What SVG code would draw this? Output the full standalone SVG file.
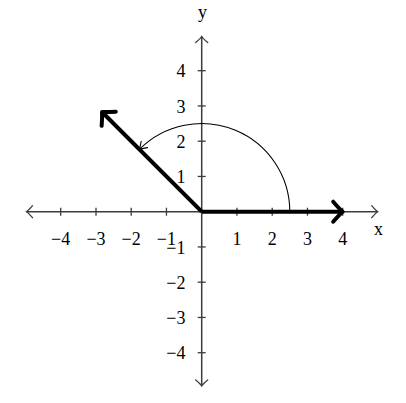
<svg xmlns="http://www.w3.org/2000/svg" width="406" height="403" viewBox="0 0 406 403">
  <style>
    .axis { stroke: #3c3c3c; stroke-width: 1.5; fill: none; }
    .tick { stroke: #3c3c3c; stroke-width: 1.3; }
    .vec { stroke: #000; stroke-width: 4; fill: none; }
    .arc { stroke: #000; stroke-width: 1.1; fill: none; }
    text { font-family: "Liberation Serif", "Times New Roman", serif; font-size: 18px; fill: #000; }
    .xl { text-anchor: middle; }
    .yl { text-anchor: end; }
  </style>
  <defs>
    <marker id="axhead" markerUnits="userSpaceOnUse" markerWidth="20" markerHeight="20" viewBox="-10 -10 20 20" refX="0" refY="0" orient="auto-start-reverse" overflow="visible">
      <path d="M -6 -6 Q -2 -1.2 0 0 Q -2 1.2 -6 6" fill="none" stroke="#3c3c3c" stroke-width="1.3" stroke-linecap="round"/>
    </marker>
    <marker id="thickhead" markerUnits="userSpaceOnUse" markerWidth="30" markerHeight="30" viewBox="-15 -15 30 30" refX="0" refY="0" orient="auto" overflow="visible">
      <path d="M -9.5 -10 Q -3 -2.5 0 0 Q -3 2.5 -9.5 10" fill="none" stroke="#000" stroke-width="4" stroke-linecap="round" stroke-linejoin="round"/>
    </marker>
    <marker id="archead" markerUnits="userSpaceOnUse" markerWidth="20" markerHeight="20" viewBox="-10 -10 20 20" refX="0" refY="0" orient="auto" overflow="visible">
      <path d="M -7 -4.5 Q -2 -1 0 0 Q -2 1 -7 4.5" fill="none" stroke="#000" stroke-width="1.1" stroke-linecap="round"/>
    </marker>
  </defs>

  <g id="axes">
    <line class="axis" x1="26.5" y1="211.7" x2="377.7" y2="211.7" marker-start="url(#axhead)" marker-end="url(#axhead)"/>
    <line class="axis" x1="201.7" y1="36.5" x2="201.7" y2="386" marker-start="url(#axhead)" marker-end="url(#axhead)"/>
    <g id="xticks">
      <line class="tick" x1="60.7" y1="207.7" x2="60.7" y2="215.7"/>
      <line class="tick" x1="96" y1="207.7" x2="96" y2="215.7"/>
      <line class="tick" x1="131.2" y1="207.7" x2="131.2" y2="215.7"/>
      <line class="tick" x1="166.45" y1="207.7" x2="166.45" y2="215.7"/>
      <line class="tick" x1="236.95" y1="207.7" x2="236.95" y2="215.7"/>
      <line class="tick" x1="272.2" y1="207.7" x2="272.2" y2="215.7"/>
      <line class="tick" x1="307.45" y1="207.7" x2="307.45" y2="215.7"/>
      <line class="tick" x1="342.7" y1="207.7" x2="342.7" y2="215.7"/>
    </g>
    <g id="yticks">
      <line class="tick" x1="197.7" y1="70.7" x2="205.7" y2="70.7"/>
      <line class="tick" x1="197.7" y1="105.95" x2="205.7" y2="105.95"/>
      <line class="tick" x1="197.7" y1="141.2" x2="205.7" y2="141.2"/>
      <line class="tick" x1="197.7" y1="176.45" x2="205.7" y2="176.45"/>
      <line class="tick" x1="197.7" y1="246.95" x2="205.7" y2="246.95"/>
      <line class="tick" x1="197.7" y1="282.2" x2="205.7" y2="282.2"/>
      <line class="tick" x1="197.7" y1="317.45" x2="205.7" y2="317.45"/>
      <line class="tick" x1="197.7" y1="352.7" x2="205.7" y2="352.7"/>
    </g>
  </g>

  <g id="labels">
    <text class="xl" x="60.7" y="245">−4</text>
    <text class="xl" x="96" y="245">−3</text>
    <text class="xl" x="131.2" y="245">−2</text>
    <text class="xl" x="166.45" y="245">−1</text>
    <text class="xl" x="236.95" y="245">1</text>
    <text class="xl" x="272.2" y="245">2</text>
    <text class="xl" x="307.45" y="245">3</text>
    <text class="xl" x="342.7" y="245">4</text>
    <text class="yl" x="185.5" y="77.3">4</text>
    <text class="yl" x="185.5" y="112.5">3</text>
    <text class="yl" x="185.5" y="147.8">2</text>
    <text class="yl" x="185.5" y="183">1</text>
    <text class="yl" x="185.5" y="253.5">−1</text>
    <text class="yl" x="185.5" y="288.7">−2</text>
    <text class="yl" x="185.5" y="324">−3</text>
    <text class="yl" x="185.5" y="359.2">−4</text>
    <text class="xl" x="378.5" y="234.5">x</text>
    <text class="xl" x="202.5" y="18">y</text>
  </g>

  <g id="connectors">
    <path id="rotation-arc" class="arc" d="M 289.8 211.7 A 88.1 88.1 0 0 0 139.4 149.4" marker-end="url(#archead)"/>
    <line id="vector-a" class="vec" x1="201.7" y1="211.7" x2="342.7" y2="211.7" marker-end="url(#thickhead)"/>
    <line id="vector-b" class="vec" x1="201.7" y1="211.7" x2="102" y2="112" marker-end="url(#thickhead)"/>
  </g>
</svg>
